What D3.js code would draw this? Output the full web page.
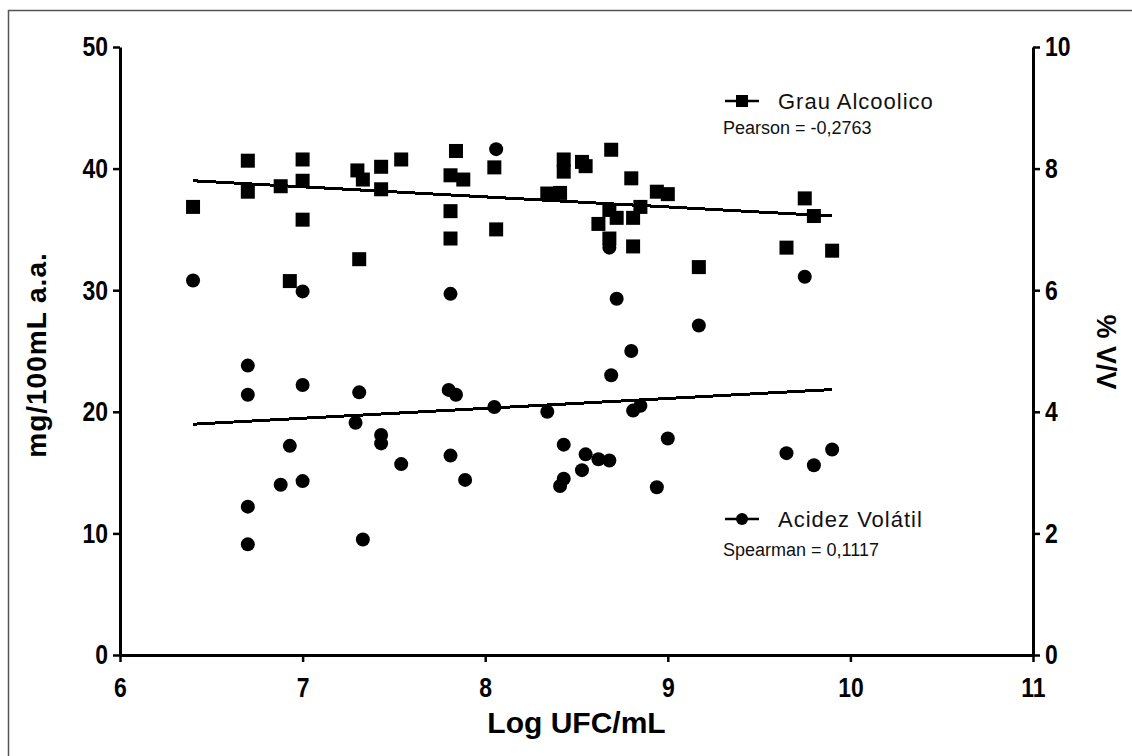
<!DOCTYPE html>
<html>
<head>
<meta charset="utf-8">
<script src="https://cdn.jsdelivr.net/npm/d3@7"></script>
<style>
  body { margin: 0; background: #fff; }
  .tick text { font-family: "Liberation Sans", Arial, sans-serif; font-weight: bold; }
</style>
</head>
<body>
<div id="chart"></div>
<script>
// Grau Alcoolico / Acidez Volatil vs Log UFC/mL

// Data
// ==========================
// Grau Alcoolico (% v/v, right axis)
var grauX = [6.40, 6.70, 6.70, 6.88, 7.00, 7.00, 7.00, 6.93, 7.30, 7.33, 7.43, 7.43, 7.54, 7.31,
    7.84, 7.81, 7.88, 8.05, 7.81, 7.81, 8.06, 8.43, 8.43, 8.53, 8.55, 8.69, 8.80, 8.34, 8.41,
    8.94, 9.00, 8.85, 8.68, 8.62, 8.72, 8.81, 8.68, 8.81, 9.17, 9.75, 9.80, 9.65, 9.90];
var grauY = [7.37, 8.13, 7.62, 7.71, 8.15, 7.80, 7.16, 6.15, 7.97, 7.82, 8.03, 7.66, 8.15, 6.51,
    8.29, 7.89, 7.82, 8.02, 7.30, 6.85, 7.00, 8.15, 7.95, 8.11, 8.04, 8.31, 7.84, 7.59, 7.60,
    7.62, 7.58, 7.37, 7.32, 7.09, 7.19, 7.19, 6.85, 6.72, 6.38, 7.51, 7.22, 6.70, 6.65];

// Acidez Volatil (mg/100mL a.a., left axis)
var acidX = [6.40, 7.00, 6.70, 6.70, 7.00, 7.31, 7.29, 7.43, 7.43, 6.93, 7.54, 6.88, 7.00, 6.70,
    6.70, 7.33, 7.81, 8.72, 9.17, 8.80, 8.69, 7.80, 7.84, 8.05, 8.34, 8.81, 8.85, 7.81, 7.89,
    8.43, 8.55, 8.62, 8.68, 8.53, 8.43, 8.41, 9.00, 8.94, 9.75, 9.65, 9.80, 9.90, 8.06, 8.68];
var acidY = [30.8, 29.9, 23.8, 21.4, 22.2, 21.6, 19.1, 18.1, 17.4, 17.2, 15.7, 14.0, 14.3, 12.2,
    9.1, 9.5, 29.7, 29.3, 27.1, 25.0, 23.0, 21.8, 21.4, 20.4, 20.0, 20.1, 20.5, 16.4, 14.4,
    17.3, 16.5, 16.1, 16.0, 15.2, 14.5, 13.9, 17.8, 13.8, 31.1, 16.6, 15.6, 16.9, 41.6, 33.5];

// Fitted lines (end points)
var grauFitX = [6.40, 9.90];
var grauFitY = [7.80, 7.22];
var acidFitX = [6.40, 9.90];
var acidFitY = [18.98, 21.83];

// Ticks
var xTicks = [6, 7, 8, 9, 10, 11];
var leftTicks = [0, 10, 20, 30, 40, 50];
var rightTicks = [0, 2, 4, 6, 8, 10];

// Housekeeping
// ==========================
var width = 1132;
var height = 756;
var plotLeft = 120;
var plotRight = 1033;
var plotTop = 47;
var plotBottom = 655;
var tickFont = 28;
var squeeze = 0.82;   // the original uses a condensed bold face

var svg = d3.select("#chart")
    .append("svg")
    .attr("width", width)
    .attr("height", height);

// grey frame round the whole thing
svg.append("rect")
    .attr("x", 8.5)
    .attr("y", 10.5)
    .attr("width", 1200)
    .attr("height", 800)
    .attr("fill", "none")
    .attr("stroke", "#555")
    .attr("stroke-width", 1.5);

// Scales
var xScale = d3.scaleLinear().domain([6, 11]).range([plotLeft, plotRight]);
var yLeft = d3.scaleLinear().domain([0, 50]).range([plotBottom, plotTop]);
var yRight = d3.scaleLinear().domain([0, 10]).range([plotBottom, plotTop]);

// Axes
// ==========================
function styleAxis(g) {
    g.select(".domain").attr("stroke", "#000").attr("stroke-width", 3);
    g.selectAll(".tick line").attr("stroke", "#000").attr("stroke-width", 2.5);
    g.selectAll(".tick text")
        .attr("font-size", tickFont)
        .attr("fill", "#000")
        .attr("transform", "scale(" + squeeze + ",1)");
}

svg.append("g")
    .attr("transform", "translate(0," + plotBottom + ")")
    .call(d3.axisBottom(xScale).tickValues(xTicks).tickFormat(d3.format("d"))
        .tickSize(7).tickSizeOuter(0).tickPadding(15))
    .call(styleAxis);

svg.append("g")
    .attr("transform", "translate(" + plotLeft + ",0)")
    .call(d3.axisLeft(yLeft).tickValues(leftTicks).tickFormat(d3.format("d"))
        .tickSize(7).tickSizeOuter(0))
    .call(styleAxis)
    .selectAll(".tick text").attr("x", -12 / squeeze);

svg.append("g")
    .attr("transform", "translate(" + plotRight + ",0)")
    .call(d3.axisRight(yRight).tickValues(rightTicks).tickFormat(d3.format("d"))
        .tickSize(7).tickSizeOuter(0))
    .call(styleAxis)
    .selectAll(".tick text").attr("x", 12 / squeeze);

// Axis titles
svg.append("text")
    .attr("x", (plotLeft + plotRight) / 2)
    .attr("y", 733)
    .attr("text-anchor", "middle")
    .attr("font-family", "'Liberation Sans', Arial, sans-serif")
    .attr("font-weight", "bold")
    .attr("font-size", 30)
    .text("Log UFC/mL");

svg.append("text")
    .attr("transform", "translate(46,355)rotate(-90)")
    .attr("text-anchor", "middle")
    .attr("font-family", "'Liberation Sans', Arial, sans-serif")
    .attr("font-weight", "bold")
    .attr("font-size", 28)
    .attr("letter-spacing", 1)
    .text("mg/100mL a.a.");

svg.append("text")
    .attr("transform", "translate(1097,352)rotate(90)")
    .attr("text-anchor", "middle")
    .attr("font-family", "'Liberation Sans', Arial, sans-serif")
    .attr("font-weight", "bold")
    .attr("font-size", 27)
    .text("% V/V");

// Fit lines
// ==========================
svg.append("line")
    .attr("x1", xScale(grauFitX[0])).attr("y1", yRight(grauFitY[0]))
    .attr("x2", xScale(grauFitX[1])).attr("y2", yRight(grauFitY[1]))
    .attr("stroke", "#000").attr("stroke-width", 3)
    .attr("shape-rendering", "crispEdges");

svg.append("line")
    .attr("x1", xScale(acidFitX[0])).attr("y1", yLeft(acidFitY[0]))
    .attr("x2", xScale(acidFitX[1])).attr("y2", yLeft(acidFitY[1]))
    .attr("stroke", "#000").attr("stroke-width", 3)
    .attr("shape-rendering", "crispEdges");

// Points
// ==========================
var sq = 14;
var circR = 7;

svg.append("g").selectAll("circle")
    .data(d3.range(acidX.length))
    .enter()
    .append("circle")
    .attr("cx", function(i) { return xScale(acidX[i]); })
    .attr("cy", function(i) { return yLeft(acidY[i]); })
    .attr("r", circR)
    .attr("fill", "#000");

svg.append("g").selectAll("rect")
    .data(d3.range(grauX.length))
    .enter()
    .append("rect")
    .attr("x", function(i) { return xScale(grauX[i]) - sq / 2; })
    .attr("y", function(i) { return yRight(grauY[i]) - sq / 2; })
    .attr("width", sq)
    .attr("height", sq)
    .attr("fill", "#000");

// Legend + correlation notes
// ==========================
var legFont = "'Liberation Sans', Arial, sans-serif";

function legendEntry(y, label, note, noteY, shape) {
    svg.append("line")
        .attr("x1", 725).attr("x2", 759)
        .attr("y1", y).attr("y2", y)
        .attr("stroke", "#000").attr("stroke-width", 2.5);
    if (shape == "square") {
        svg.append("rect")
            .attr("x", 742 - 6).attr("y", y - 6)
            .attr("width", 12).attr("height", 12)
            .attr("fill", "#000");
    } else {
        svg.append("circle")
            .attr("cx", 742).attr("cy", y)
            .attr("r", 6)
            .attr("fill", "#000");
    }
    svg.append("text")
        .attr("x", 778).attr("y", y + 8)
        .attr("font-family", legFont)
        .attr("font-size", 22)
        .attr("letter-spacing", 1)
        .attr("fill", "#111")
        .text(label);
    svg.append("text")
        .attr("x", 723).attr("y", noteY)
        .attr("font-family", legFont)
        .attr("font-size", 18)
        .attr("fill", "#111")
        .text(note);
}

legendEntry(101, "Grau Alcoolico", "Pearson = -0,2763", 134, "square");
legendEntry(519, "Acidez Volátil", "Spearman = 0,1117", 556, "circle");
</script>
</body>
</html>
